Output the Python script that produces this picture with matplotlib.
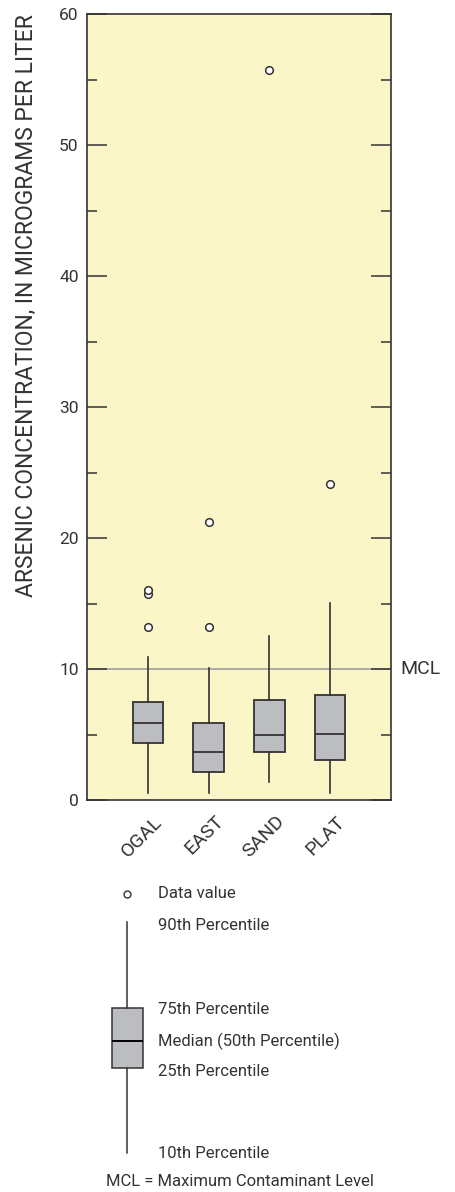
import matplotlib
matplotlib.use('Agg')
import matplotlib.pyplot as plt
import matplotlib.transforms as mtransforms
from matplotlib.ticker import MultipleLocator

plt.rcParams['font.family'] = ['Roboto', 'DejaVu Sans']

# Dados (microgramas por litro)
grupos = ['OGAL', 'EAST', 'SAND', 'PLAT']
p10 = [0.55, 0.55, 1.4, 0.55]
p25 = [4.35, 2.15, 3.7, 3.05]
mediana = [5.9, 3.65, 4.95, 5.05]
p75 = [7.45, 5.85, 7.65, 8.0]
p90 = [10.9, 10.05, 12.55, 15.05]
outliers = [[13.2, 15.7, 16.0], [13.2, 21.2], [55.7], [24.1]]
mcl = 10

fundo = '#FAF6C7'
cinza_caixa = '#BCBDC0'
cor_linha = '#333333'

fig = plt.figure(figsize=(4.55, 11.92), dpi=100)
W, H = 455, 1192
ax = fig.add_axes([87 / W, (H - 800) / H, 304 / W, 786 / H])
ax.set_facecolor(fundo)

stats = []
for i, g in enumerate(grupos):
    stats.append(dict(label=g, whislo=p10[i], q1=p25[i], med=mediana[i],
                      q3=p75[i], whishi=p90[i], fliers=outliers[i]))

ax.axhline(mcl, color='#9E9E9E', lw=1.2, zorder=1)

ax.bxp(stats, positions=[1, 2, 3, 4], widths=0.5, patch_artist=True,
       showcaps=False,
       boxprops=dict(facecolor=cinza_caixa, edgecolor=cor_linha, linewidth=1.3),
       medianprops=dict(color=cor_linha, linewidth=1.3),
       whiskerprops=dict(color=cor_linha, linewidth=1.2),
       flierprops=dict(marker='o', markersize=5.5, markerfacecolor='white',
                       markeredgecolor=cor_linha, markeredgewidth=1.1))

ax.set_xlim(0, 5)
ax.set_ylim(0, 60)
ax.yaxis.set_major_locator(MultipleLocator(10))
ax.yaxis.set_minor_locator(MultipleLocator(5))
ax.tick_params(axis='y', which='major', direction='in', length=14.5, width=1.1,
               left=True, right=True, labelsize=12.5, pad=6, color=cor_linha,
               labelcolor=cor_linha)
ax.tick_params(axis='y', which='minor', direction='in', length=7.5, width=1.1,
               left=True, right=True, color=cor_linha)
ax.tick_params(axis='x', length=0, labelsize=14, labelcolor=cor_linha)
for s in ax.spines.values():
    s.set_color(cor_linha)
    s.set_linewidth(1.2)

ax.set_xticks([1, 2, 3, 4])
ax.set_xticklabels(grupos, rotation=45, ha='right', va='center',
                   rotation_mode='anchor')
desloc = mtransforms.ScaledTranslation(12 / 100, -14 / 100, fig.dpi_scale_trans)
for lbl in ax.get_xticklabels():
    lbl.set_transform(lbl.get_transform() + desloc)

ax.set_ylabel('ARSENIC CONCENTRATION, IN MICROGRAMS PER LITER', fontsize=16.5,
              color=cor_linha)
ax.yaxis.set_label_coords(-0.16, (800 - 306) / 786)
ax.text(1.03, mcl, 'MCL', transform=ax.get_yaxis_transform(), fontsize=14,
        va='center', ha='left', color=cor_linha)

# Legenda explicativa (esquema de caixa)
axl = fig.add_axes([0, 0, 1, (H - 860) / H])
axl.axis('off')
chave = [dict(whislo=1153, q1=1068, med=1041, q3=1008, whishi=922, fliers=[894])]
axl.bxp(chave, positions=[127], widths=31, patch_artist=True, showcaps=False,
        boxprops=dict(facecolor=cinza_caixa, edgecolor=cor_linha, linewidth=1.1),
        medianprops=dict(color='black', linewidth=1.4),
        whiskerprops=dict(color=cor_linha, linewidth=1.1),
        flierprops=dict(marker='o', markersize=5, markerfacecolor='white',
                        markeredgecolor=cor_linha, markeredgewidth=1.0))
axl.set_xlim(0, W)
axl.set_ylim(H, 860)
rotulos = [('Data value', 894), ('90th Percentile', 926), ('75th Percentile', 1010),
           ('Median (50th Percentile)', 1041), ('25th Percentile', 1071),
           ('10th Percentile', 1153)]
for txt, y in rotulos:
    axl.text(158, y, txt, fontsize=12, va='center', ha='left', color=cor_linha)
axl.text(106, 1181, 'MCL = Maximum Contaminant Level', fontsize=12,
         va='center', ha='left', color=cor_linha)

fig.savefig('out.png', dpi=100)
